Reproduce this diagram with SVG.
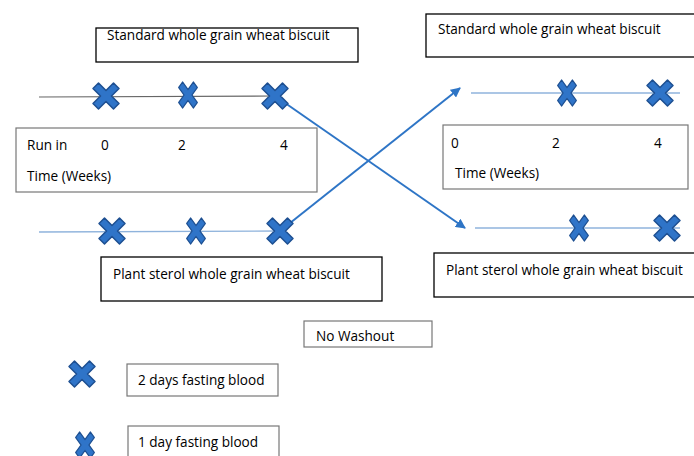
<svg xmlns="http://www.w3.org/2000/svg" width="694" height="456" viewBox="0 0 694 456">
<defs>
<style>
.box{fill:#fff;stroke:#000;stroke-width:1.3}
.gbox{fill:#fff;stroke:#777;stroke-width:1.2}
.t{font-family:"Open Sans","Liberation Sans",sans-serif;font-size:13.6px;fill:#000}
.x{fill:#2f74c8;stroke:#1d4f91;stroke-width:1.5;stroke-linejoin:round}
.tl{stroke:#8fb3dc;stroke-width:1.3;fill:none}
.arr{stroke:#2e75c6;stroke-width:2;fill:none;marker-end:url(#ah)}
</style>
<marker id="ah" viewBox="0 0 10 10" refX="9" refY="5" markerWidth="5" markerHeight="5" orient="auto" markerUnits="strokeWidth">
<path d="M0,0 L10,5 L0,10 z" fill="#2e75c6"/>
</marker>
<polygon id="xs" points="-13,-7.5 -7.5,-13 0,-5.5 7.5,-13 13,-7.5 5.5,0 13,7.5 7.5,13 0,5.5 -7.5,13 -13,7.5 -5.5,0"/>
</defs>
<rect width="694" height="456" fill="#fff"/>

<g id="connectors">
<line x1="39" y1="97" x2="275" y2="96" stroke="#666" stroke-width="1.2"/>
<line class="tl" x1="39" y1="232" x2="280" y2="231"/>
<line class="tl" x1="471" y1="93" x2="680" y2="93"/>
<line class="tl" x1="475" y1="228" x2="680" y2="228"/>
<line class="arr" x1="275" y1="96" x2="465" y2="228"/>
<line class="arr" x1="280" y1="231" x2="460" y2="88"/>
</g>

<g id="std-left"><rect class="box" x="96" y="28" width="262" height="34"/><text class="t" x="107" y="40">Standard whole grain wheat biscuit</text></g>
<g id="runin"><rect class="gbox" x="16" y="128" width="301" height="64"/>
<text class="t" x="27" y="150">Run in</text><text class="t" x="101" y="150">0</text><text class="t" x="178" y="150">2</text><text class="t" x="280" y="150">4</text>
<text class="t" x="27" y="181">Time (Weeks)</text></g>
<g id="plant-left"><rect class="box" x="101" y="257" width="281" height="44"/><text class="t" x="113" y="279">Plant sterol whole grain wheat biscuit</text></g>

<g id="std-right"><rect class="box" x="426" y="14" width="272" height="43"/><text class="t" x="438" y="34">Standard whole grain wheat biscuit</text></g>
<g id="time-right"><rect class="gbox" x="443" y="125" width="245" height="64"/>
<text class="t" x="451" y="148">0</text><text class="t" x="552" y="148">2</text><text class="t" x="654" y="148">4</text>
<text class="t" x="455" y="178">Time (Weeks)</text></g>
<g id="plant-right"><rect class="box" x="434" y="253" width="264" height="44"/><text class="t" x="446" y="275">Plant sterol whole grain wheat biscuit</text></g>

<g id="washout"><rect class="gbox" x="304" y="321" width="128" height="26"/><text class="t" x="316" y="341">No Washout</text></g>
<g id="leg2"><rect class="gbox" x="127" y="364" width="151" height="32"/><text class="t" x="138" y="385">2 days fasting blood</text></g>
<g id="leg1"><rect class="gbox" x="128" y="426" width="151" height="40"/><text class="t" x="138" y="447">1 day fasting blood</text></g>

<g id="crosses">
<use href="#xs" class="x" transform="translate(106,96)"/>
<use href="#xs" class="x" transform="translate(188,95) scale(0.72,1)"/>
<use href="#xs" class="x" transform="translate(275,96)"/>
<use href="#xs" class="x" transform="translate(112,231)"/>
<use href="#xs" class="x" transform="translate(196,231) scale(0.72,1)"/>
<use href="#xs" class="x" transform="translate(280,231)"/>
<use href="#xs" class="x" transform="translate(567,93) scale(0.72,1)"/>
<use href="#xs" class="x" transform="translate(660,93)"/>
<use href="#xs" class="x" transform="translate(579,228) scale(0.72,1)"/>
<use href="#xs" class="x" transform="translate(667,228)"/>
<use href="#xs" class="x" transform="translate(82,374)"/>
<use href="#xs" class="x" transform="translate(85,445) scale(0.72,1)"/>
</g>
</svg>
